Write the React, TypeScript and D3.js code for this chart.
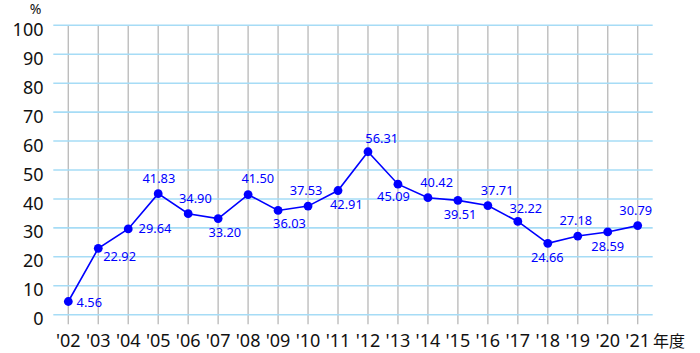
import React from 'react';
import * as d3 from 'd3';

// fiscal years and ratio values (%)
const years = ["'02", "'03", "'04", "'05", "'06", "'07", "'08", "'09", "'10", "'11",
  "'12", "'13", "'14", "'15", "'16", "'17", "'18", "'19", "'20", "'21"];
const values = [4.56, 22.92, 29.64, 41.83, 34.90, 33.20, 41.50, 36.03, 37.53, 42.91,
  56.31, 45.09, 40.42, 39.51, 37.71, 32.22, 24.66, 27.18, 28.59, 30.79];
const yTicks = [0, 10, 20, 30, 40, 50, 60, 70, 80, 90, 100];

// label placement relative to each point: [dx to text centre, dy to baseline]
const labelOffsets = [
  [21, 5.5], [21.4, 12.6], [26.7, 4], [0.7, -10.7], [7.2, -10.7],
  [6.7, 18], [9.7, -11.3], [11.4, 18], [-2, -11], [8.4, 18.5],
  [13.7, -8.4], [-4.5, 16.5], [8.7, -10.4], [2.2, 19], [9.3, -10.6],
  [8, -8.5], [-0.5, 19], [-2, -11], [0, 18.8], [-2, -10.6],
];

const W = 700;
const H = 353;
const FONT = "'Noto Sans', 'Open Sans', 'Noto Sans CJK JP', sans-serif";
const BLUE = '#0000ff';

export default function App() {
  const x = d3.scalePoint<string>().domain(years).range([68.3, 637.7]);
  const y = d3.scaleLinear().domain([0, 100]).range([314.7, 25.3]);

  const line = d3.line<number>()
    .x((d, i) => x(years[i]) as number)
    .y(d => y(d));

  return (
    <svg width={W} height={H} style={{ position: 'absolute', left: 0, top: 0 }}
      fontFamily={FONT}>
      <rect width={W} height={H} fill="#fff" />

      {/* vertical grid */}
      {years.map(yr => (
        <line key={'v' + yr} x1={x(yr)} x2={x(yr)} y1={y(100)} y2={y(0) + 9.5}
          stroke="#bdbdbd" strokeWidth={1.4} />
      ))}

      {/* horizontal grid */}
      {yTicks.map(t => (
        <line key={'h' + t} x1={53.3} x2={652.7} y1={y(t)} y2={y(t)}
          stroke="#a6dcf6" strokeWidth={1.6} />
      ))}

      {/* y labels */}
      {yTicks.map(t => (
        <text key={'yl' + t} x={43.5} y={y(t) + 10.6} textAnchor="end"
          fontSize={18} fill="#111">{t}</text>
      ))}
      <text x={35.5} y={13.5} textAnchor="middle" fontSize={14} fill="#111">%</text>

      {/* x labels */}
      {years.map(yr => (
        <text key={'xl' + yr} x={x(yr)} y={346.5} textAnchor="middle"
          fontSize={18} fill="#111">{yr}</text>
      ))}
      <text x={653} y={346.5} fontSize={16} fill="#111">年度</text>

      {/* series */}
      <path d={line(values) ?? ''} fill="none" stroke={BLUE} strokeWidth={1.6} />
      {values.map((v, i) => (
        <circle key={'p' + i} cx={x(years[i])} cy={y(v)} r={4.4} fill={BLUE} />
      ))}
      {values.map((v, i) => (
        <text key={'vl' + i} x={(x(years[i]) as number) + labelOffsets[i][0]}
          y={y(v) + labelOffsets[i][1]} textAnchor="middle" fontSize={12.8}
          fill={BLUE}>{v.toFixed(2)}</text>
      ))}
    </svg>
  );
}
